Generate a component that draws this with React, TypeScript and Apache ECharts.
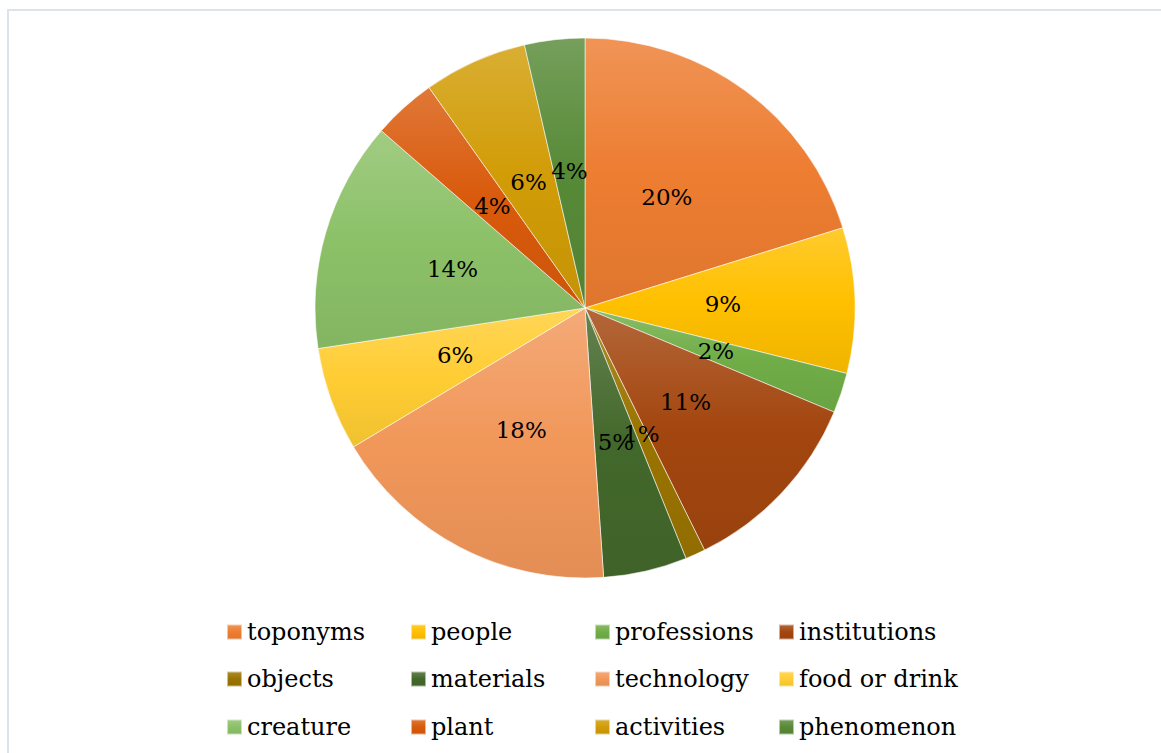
import React, { useEffect, useRef } from "react";
import * as echarts from "echarts";

const categories = [
  "toponyms", "people", "professions", "institutions",
  "objects", "materials", "technology", "food or drink",
  "creature", "plant", "activities", "phenomenon",
];
const shares = [20.2, 8.7, 2.4, 11.4, 1.2, 5.0, 17.5, 6.2, 13.8, 3.8, 6.2, 3.6];
const baseColors = [
  "#ED7D31", "#FFC000", "#70AD47", "#A3460F",
  "#9A7400", "#43682B", "#F1975A", "#FFCD33",
  "#8CC168", "#D95A0C", "#D19C06", "#578A37",
];

const legendColX = [226, 410, 594, 778];
const legendRowY = [632, 679, 727];

function hexToRgb(h: string) {
  const n = parseInt(h.slice(1), 16);
  return [(n >> 16) & 255, (n >> 8) & 255, n & 255];
}
function mix(h: string, target: number, t: number) {
  const c = hexToRgb(h).map((v) => Math.round(v + (target - v) * t));
  return `rgb(${c[0]},${c[1]},${c[2]})`;
}
function grad(h: string) {
  return new echarts.graphic.LinearGradient(0, 0, 0, 1, [
    { offset: 0, color: mix(h, 255, 0.18) },
    { offset: 0.5, color: h },
    { offset: 1, color: mix(h, 0, 0.06) },
  ]);
}

export default function App() {
  const ref = useRef<HTMLDivElement>(null);
  useEffect(() => {
    if (!ref.current) return;
    const chart = echarts.init(ref.current, undefined, { renderer: "svg" });
    const font = "DejaVu Serif";
    const legends = categories.map((name, i) => ({
      left: legendColX[i % 4],
      top: legendRowY[Math.floor(i / 4)] - 14,
      orient: "horizontal",
      icon: "rect",
      itemWidth: 15,
      itemHeight: 15,
      padding: 0,
      selectedMode: false,
      textStyle: {
        fontFamily: font,
        fontSize: 24,
        color: "#000",
        lineHeight: 28,
      },
      data: [name],
    }));
    chart.setOption({
      animation: false,
      backgroundColor: "#ffffff",
      graphic: [
        {
          type: "rect",
          shape: { x: 8, y: 10, width: 1170, height: 770 },
          style: { fill: "none", stroke: "#dde3ea", lineWidth: 2 },
          silent: true,
        },
      ],
      legend: legends,
      series: [
        {
          type: "pie",
          center: [585, 308],
          radius: [0, 270],
          startAngle: 90,
          clockwise: true,
          avoidLabelOverlap: false,
          labelLayout: { hideOverlap: false },
          itemStyle: { borderColor: "rgba(255,255,255,0.55)", borderWidth: 1 },
          label: {
            show: true,
            position: "inside",
            fontFamily: font,
            fontSize: 23,
            color: "#000",
            formatter: (p: any) => Math.round(p.percent) + "%",
          },
          labelLine: { show: false },
          emphasis: { disabled: true },
          data: categories.map((name, i) => ({
            name,
            value: shares[i],
            itemStyle: { color: grad(baseColors[i]) },
          })),
        },
      ],
    });
    return () => chart.dispose();
  }, []);
  return (
    <div
      ref={ref}
      style={{ position: "fixed", left: 0, top: 0, width: 1161, height: 753 }}
    />
  );
}
